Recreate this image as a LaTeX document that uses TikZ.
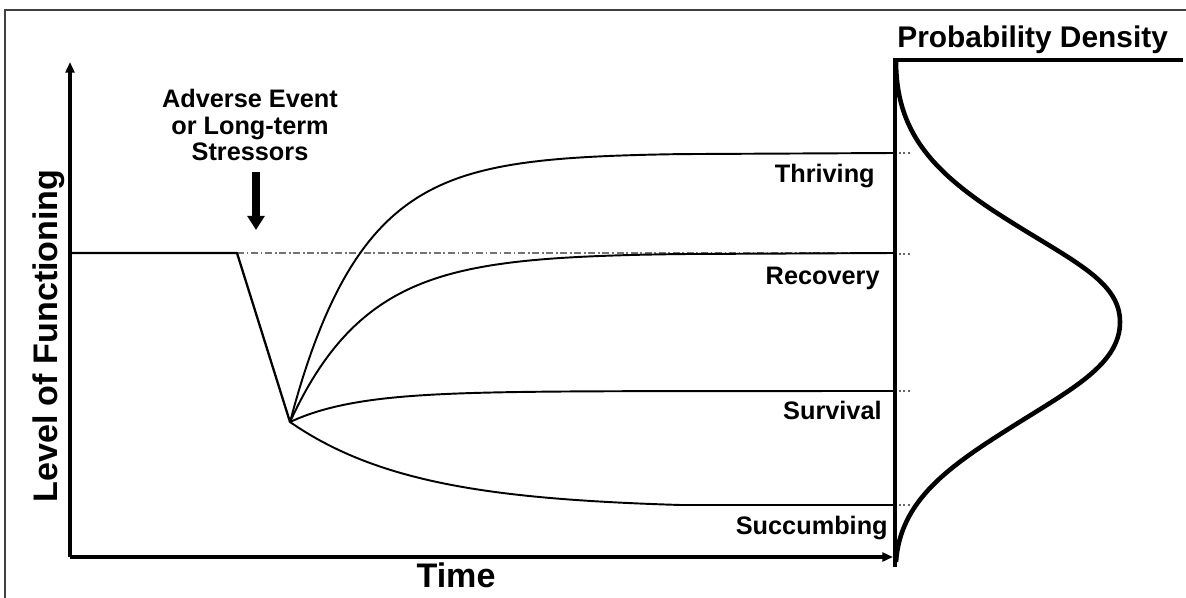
\documentclass[tikz,border=0pt]{standalone}
\usepackage{fontspec}
\setmainfont{Liberation Sans}
\usetikzlibrary{arrows.meta}
\begin{document}
\begin{tikzpicture}[x=0.02cm,y=-0.02cm,
  lbl/.style={font=\bfseries\fontsize{14.4}{16}\selectfont, inner sep=0pt},
  ttl/.style={font=\bfseries\fontsize{17}{20}\selectfont, inner sep=0pt},
  axlbl/.style={font=\bfseries\fontsize{19.4}{22}\selectfont, inner sep=0pt},
  frame/.style={line width=0.6pt, draw=black!75},
  axisline/.style={line width=1.8pt},
  traj/.style={line width=1.1pt},
  base/.style={line width=1.3pt},
  refline/.style={line width=0.6pt, draw=black!55, dash pattern=on 4pt off 1.5pt on 1pt off 1.5pt},
  stub/.style={line width=0.9pt, draw=black!60, dash pattern=on 1pt off 1.5pt},
  density/.style={line width=2.6pt, line join=round},
  paxis/.style={line width=2.3pt, line join=miter},
  bigarrow/.style={line width=4pt, -{Triangle[length=8pt,width=9.5pt]}}
]
\useasboundingbox (0,0) rectangle (1186,598);

% frame
\draw[frame] (5,598) -- (5,10) -- (1186,10);

% coordinates
\coordinate (origin) at (70,557);
\coordinate (ytip) at (70,62);
\coordinate (xtip) at (893,557);
\coordinate (lvl0) at (70,253);
\coordinate (onset) at (237,253);
\coordinate (trough) at (290,422);
\coordinate (pbot) at (895,567);
\coordinate (ptop) at (895,60);
\coordinate (pright) at (1183,60);
\coordinate (arrtop) at (256,172);
\coordinate (arrtip) at (256,230);

% axes
\draw[axisline, -{Triangle[length=6pt,width=5pt]}] (origin) -- (ytip);
\draw[axisline, -{Triangle[length=6pt,width=5pt]}] (origin) -- (xtip);

% dashed baseline level
\coordinate (refend) at (895,253);
\draw[refline] (onset) -- (refend);

% baseline and drop
\draw[base, line join=round] (lvl0) -- (onset) -- (trough);

% trajectories
\draw[traj] (trough) -- plot[domain=290:680,samples=90] (\x,{153+269*exp(-0.0141*(\x-290))}) -- (893,153) coordinate (thrEnd);
\draw[traj] (trough) -- plot[domain=290:680,samples=90] (\x,{253+169*exp(-0.013*(\x-290))}) -- (893,253) coordinate (recEnd);
\draw[traj] (trough) -- plot[domain=290:680,samples=90] (\x,{391+31*exp(-0.015*(\x-290))}) -- (893,391) coordinate (surEnd);
\draw[traj] (trough) -- plot[domain=290:680,samples=90] (\x,{505-83*(exp(-0.008*(\x-290))-0.044)/0.956}) -- (893,505) coordinate (sucEnd);

% dotted stubs
\foreach \yy in {153,254,391,505}{
  \draw[stub] (899,\yy) -- (911,\yy);
}

% probability density axis and curve
\draw[paxis] (pbot) -- (ptop) -- (pright);
\coordinate (d0) at (896,61);
\coordinate (d1) at (1000,215);
\coordinate (dpeak) at (1120,322);
\coordinate (d3) at (1010,428);
\coordinate (d4) at (896,562);
\draw[density] (d0) .. controls (896,130) and (930,170) .. (d1)
  .. controls (1070,260) and (1120,280) .. (dpeak)
  .. controls (1120,365) and (1070,390) .. (d3)
  .. controls (950,466) and (900,500) .. (d4);

% event arrow
\draw[bigarrow] (arrtop) -- (arrtip);

% texts
\node[lbl, anchor=base] (ev1) at (250,108) {Adverse Event};
\node[lbl, anchor=base] (ev2) at (250,134) {or Long-term};
\node[lbl, anchor=base] (ev3) at (250,160) {Stressors};

\node[ttl, anchor=base west] (pd) at (897,48) {Probability Density};

\node[lbl, anchor=base east] (thr) at (875,182) {Thriving};
\node[lbl, anchor=base east] (rec) at (880,284) {Recovery};
\node[lbl, anchor=base east] (sur) at (882,419) {Survival};
\node[lbl, anchor=base east] (suc) at (888,534) {Succumbing};

\node[axlbl, anchor=base] (time) at (456,587) {Time};
\node[axlbl, anchor=base, rotate=90] (lof) at (57,336) {Level of Functioning};
\end{tikzpicture}
\end{document}
